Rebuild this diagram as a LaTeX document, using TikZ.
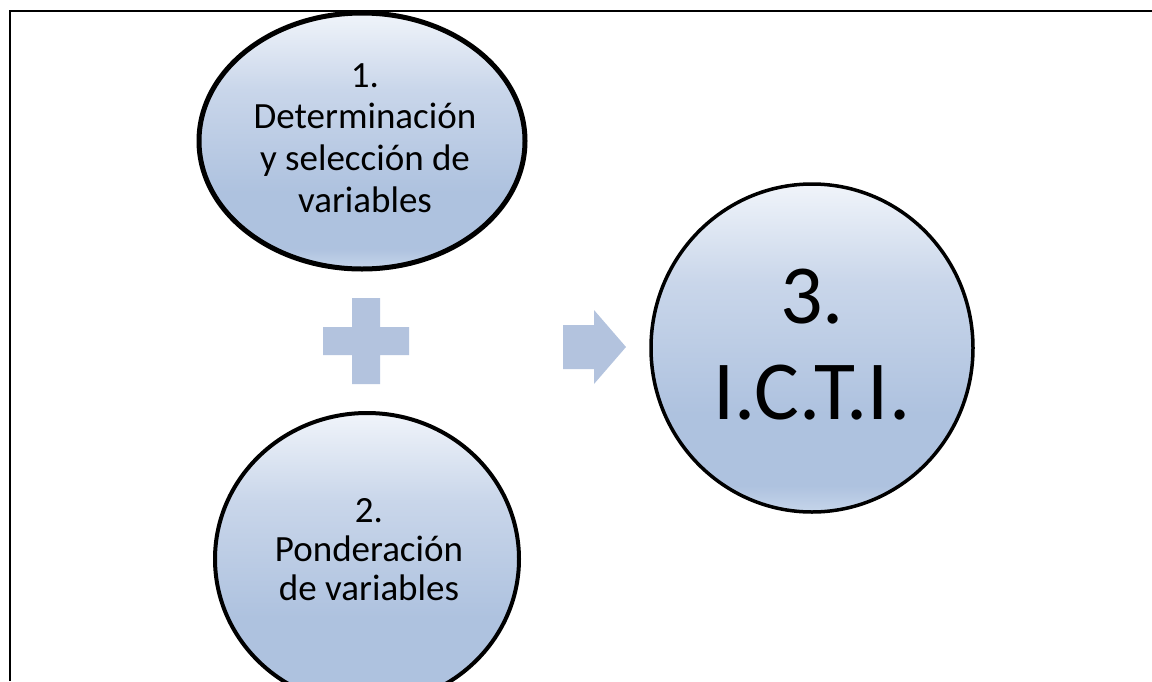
\documentclass[tikz,border=0pt]{standalone}
\usepackage{fontspec}
\setmainfont{Carlito}
\definecolor{symb}{HTML}{B3C3DE}
\definecolor{gtop}{HTML}{F0F4FA}
\definecolor{gmid}{HTML}{C9D6EA}
\definecolor{gbot}{HTML}{AEC2DF}
\definecolor{gedge}{HTML}{C6D5EA}
\pgfdeclareverticalshading{bubble}{100bp}{color(0bp)=(gedge); color(25bp)=(gedge); color(29bp)=(gbot); color(40bp)=(gbot); color(60bp)=(gmid); color(75bp)=(gtop); color(100bp)=(gtop)}
\tikzset{
  bubble/.style={draw=black, shading=bubble},
  label1/.style={align=center, inner sep=0pt, text=black, font=\fontsize{18.5}{20.8}\selectfont},
  label2/.style={align=center, inner sep=0pt, text=black, font=\fontsize{18.5}{19.5}\selectfont},
  bigtxt/.style={align=center, inner sep=0pt, text=black, font=\fontsize{42}{48}\selectfont},
  symbshape/.style={fill=symb, draw=none}
}
\begin{document}
\begin{tikzpicture}[x=0.5pt, y=-0.5pt]
\useasboundingbox (0,0) rectangle (1152,681);
% frame (only top and left visible)
\draw[line width=1pt] (10,681) -- (10,11) -- (1152,11);
% bubbles
\path[bubble, line width=2.5pt] (362,141) ellipse [x radius=163, y radius=128];
\path[bubble, line width=2pt] (367,559) ellipse [x radius=152, y radius=146];
\path[bubble, line width=1.75pt] (812,348) ellipse [x radius=161, y radius=164];
\node[label1] (e1) at (365,138) {1.\\Determinación\\y selección de\\variables};
\node[label2] (e2) at (369,550) {2.\\Ponderación\\de variables};
\node[bigtxt] (e3) at (812,345) {3.\\I.C.T.I.};
% plus sign
\fill[symbshape] (352,298) -- (380,298) -- (380,327) -- (409,327) -- (409,355) -- (380,355)
  -- (380,384) -- (352,384) -- (352,355) -- (323,355) -- (323,327) -- (352,327) -- cycle;
\coordinate (plus) at (366,341);
% arrow
\fill[symbshape] (563,325) -- (594,325) -- (594,310) -- (626,347) -- (594,384) -- (594,369) -- (563,369) -- cycle;
\coordinate (arrow) at (594,347);
\end{tikzpicture}
\end{document}
